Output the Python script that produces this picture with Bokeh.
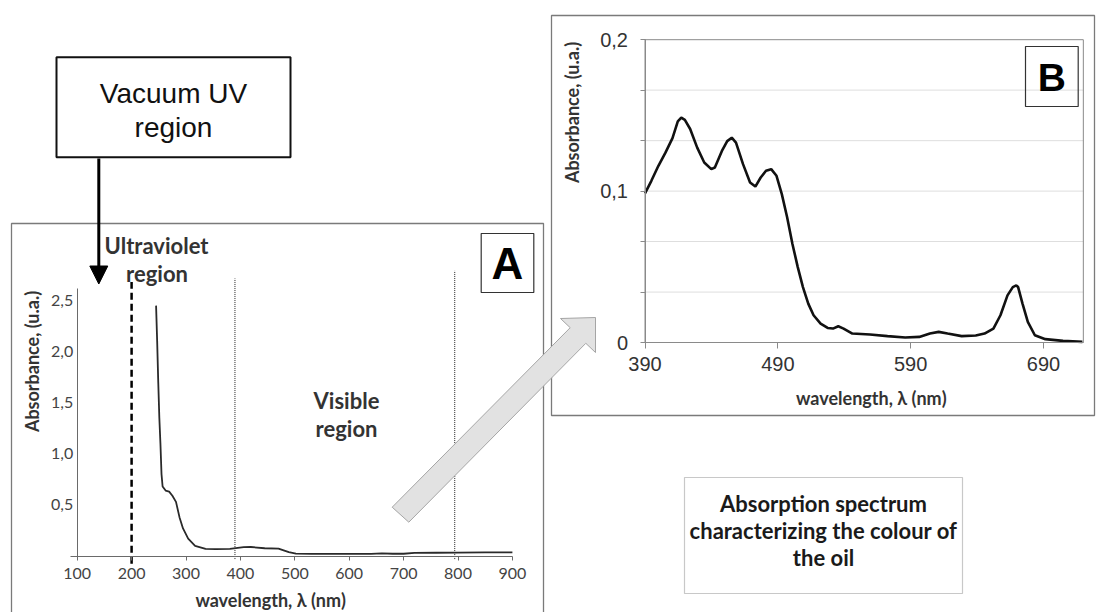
from math import pi
from bokeh.plotting import figure
from bokeh.models import (Range1d, LinearAxis, FixedTicker, CustomJSTickFormatter,
                          BoxAnnotation, Label, Arrow, NormalHead, PolyAnnotation)
from bokeh.embed import file_html
from bokeh.resources import INLINE

# ---------------- data ----------------
# Panel A: full UV-Vis spectrum
wl_a = [245, 247, 249, 251, 253, 255, 257, 262.5, 269, 275, 281.6, 288, 294.5, 304, 316.7,
        336, 355, 380.7, 406, 419, 444.7, 470, 489, 502, 530, 560, 600, 640, 660, 680,
        700, 720, 760, 800, 850, 900]
abs_a = [2.45, 2.1, 1.7, 1.35, 1.1, 0.8, 0.68, 0.64, 0.63, 0.59, 0.53, 0.38, 0.27, 0.17, 0.10,
         0.07, 0.068, 0.07, 0.086, 0.088, 0.076, 0.073, 0.037, 0.024, 0.02, 0.02, 0.02, 0.021,
         0.025, 0.022, 0.022, 0.03, 0.032, 0.033, 0.035, 0.035]

# Panel B: visible-range zoom
wl_b = [390, 394.8, 400.1, 405.4, 410.7, 414.7, 417.3, 420, 424, 429.3, 434.6, 439.9, 442.6,
        447.9, 451.9, 455.3, 458.5, 463.8, 469.1, 473.1, 477.1, 481.1, 485, 489, 493, 497,
        501, 505, 508.9, 512.9, 516.9, 522.2, 527.5, 531.5, 535.5, 539.5, 546.1, 559.4,
        572.6, 585.9, 596.5, 604.5, 611.1, 617.8, 628.4, 639, 645.6, 652.3, 657.6, 662.9,
        666.9, 669.5, 670.9, 674.2, 678.2, 683.5, 691.4, 704.7, 719.3]
abs_b = [0.0985, 0.1068, 0.1167, 0.1254, 0.135, 0.146, 0.1485, 0.147, 0.141, 0.1287, 0.1189,
         0.1145, 0.1156, 0.1265, 0.133, 0.1353, 0.132, 0.1178, 0.1057, 0.103, 0.109, 0.1134,
         0.1145, 0.1101, 0.098, 0.0827, 0.0651, 0.0498, 0.0366, 0.0257, 0.018, 0.0125,
         0.0096, 0.0092, 0.0107, 0.0092, 0.0059, 0.0053, 0.0042, 0.0033, 0.0037, 0.0059,
         0.007, 0.0059, 0.0042, 0.0046, 0.0059, 0.0092, 0.018, 0.0311, 0.0366, 0.0377,
         0.0366, 0.0257, 0.0136, 0.0048, 0.0022, 0.0011, 0.0004]

ticks_a_x = [100, 200, 300, 400, 500, 600, 700, 800, 900]
ticks_a_y = [0.5, 1.0, 1.5, 2.0, 2.5]
ticks_b_x = [390, 490, 590, 690]
ticks_b_y = [0, 0.1, 0.2]
minor_b_y = [0.0333, 0.0667, 0.1333, 0.1667]
grid_b_y = [0.0333, 0.0667, 0.1, 0.1333, 0.1667]

uv_limit = [200]
vis_limits = [390, 794]

# ---------------- canvas ----------------
W, H = 1096, 612
p = figure(width=W, height=H, x_range=Range1d(0, W), y_range=Range1d(H, 0),
           x_axis_location=None, y_axis_location=None, toolbar_location=None,
           output_backend="svg", min_border=0, outline_line_color=None,
           background_fill_color="white", border_fill_color="white")
p.xgrid.visible = False
p.ygrid.visible = False


def xr(v0, px0, scale):
    start = v0 - px0 / scale
    return Range1d(start, start + W / scale)


def yr(v0, py0, scale):
    top = v0 + py0 / scale
    return Range1d(top - H / scale, top)


p.extra_x_ranges = {"A": xr(100, 76.7, 0.544), "B": xr(390, 644.5, 1.3283)}
p.extra_y_ranges = {"A": yr(0, 555.5, 102.2), "B": yr(0, 342, 1514)}

comma_fmt = CustomJSTickFormatter(code="return tick == 0 ? '0' : tick.toFixed(1).replace('.', ',');")


def box(left, right, top, bottom, color, width=1.0, fill=None, **kw):
    p.add_layout(BoxAnnotation(left=left, right=right, top=top, bottom=bottom,
                               fill_color=fill or "white", fill_alpha=1 if fill else 0,
                               line_color=color, line_alpha=1, line_width=width, **kw))


# ---------------- panel borders ----------------
box(11, 543, 223, 640, "#7a7a7a", 1.3)
box(551, 1094, 15, 415, "#7a7a7a", 1.3)

# ---------------- panel B ----------------
p.segment(x0=[390] * len(grid_b_y), y0=grid_b_y, x1=[720] * len(grid_b_y), y1=grid_b_y,
          x_range_name="B", y_range_name="B", line_color="#dedede", line_width=1)
box(390, 720, 0.2, 0, "#8a8a8a", 1, x_range_name="B", y_range_name="B")

xb = LinearAxis(x_range_name="B", y_range_name="B", fixed_location=0, bounds=(390, 720),
                ticker=FixedTicker(ticks=ticks_b_x), axis_line_color="#8a8a8a",
                major_tick_line_color="#8a8a8a", major_tick_in=0, major_tick_out=6,
                minor_tick_line_color=None, major_label_standoff=8,
                major_label_text_font="Liberation Sans", major_label_text_font_size="20px",
                major_label_text_color="#333333")
p.add_layout(xb, "below")
yb = LinearAxis(x_range_name="B", y_range_name="B", fixed_location=390, bounds=(0, 0.2),
                ticker=FixedTicker(ticks=ticks_b_y, minor_ticks=minor_b_y),
                formatter=comma_fmt, axis_line_color="#8a8a8a",
                major_tick_line_color="#8a8a8a", major_tick_in=0, major_tick_out=5,
                minor_tick_line_color="#8a8a8a", minor_tick_in=0, minor_tick_out=5,
                major_label_standoff=12, major_label_text_font="Liberation Sans",
                major_label_text_font_size="20px", major_label_text_color="#333333")
p.add_layout(yb, "left")

p.line(wl_b, abs_b, x_range_name="B", y_range_name="B", line_color="#111111", line_width=2.6)

# ---------------- panel A ----------------
xa = LinearAxis(x_range_name="A", y_range_name="A", fixed_location=0, bounds=(88, 900),
                ticker=FixedTicker(ticks=ticks_a_x), axis_line_color="#6a6a6a",
                major_tick_line_color="#6a6a6a", major_tick_in=0, major_tick_out=4,
                minor_tick_line_color=None, major_label_standoff=8,
                major_label_text_font="Lato", major_label_text_font_size="16px",
                major_label_text_color="#444444")
p.add_layout(xa, "below")
ya = LinearAxis(x_range_name="A", y_range_name="A", fixed_location=100, bounds=(0, 2.62),
                ticker=FixedTicker(ticks=ticks_a_y), formatter=comma_fmt,
                axis_line_color="#6a6a6a", major_tick_line_color=None, major_tick_out=0,
                major_tick_in=0, minor_tick_line_color=None, major_label_standoff=4,
                major_label_text_font="Lato", major_label_text_font_size="16px",
                major_label_text_color="#444444")
p.add_layout(ya, "left")

p.segment(x0=uv_limit, y0=[-0.076], x1=uv_limit, y1=[2.68], x_range_name="A",
          y_range_name="A", line_color="black", line_width=2.5, line_dash="7 4")
p.segment(x0=vis_limits, y0=[-0.03, -0.03], x1=vis_limits, y1=[2.715, 2.79],
          x_range_name="A", y_range_name="A", line_color="#222222", line_width=1,
          line_dash="1 1")
p.line(wl_a, abs_a, x_range_name="A", y_range_name="A", line_color="#2a2a2a", line_width=1.8)


# ---------------- text & boxes ----------------
def lab(x, y, text, size, font="Lato", style="bold", color="#333333", angle=0):
    p.add_layout(Label(x=x, y=y, text=text, text_align="center", text_baseline="middle",
                       text_font=font, text_font_size=f"{size}px", text_font_style=style,
                       text_color=color, angle=angle))


lab(31, 361, "Absorbance, (u.a.)", 18, angle=pi / 2)
lab(270, 599, "wavelength, \u03bb (nm)", 18)
lab(571.5, 112, "Absorbance, (u.a.)", 18, angle=pi / 2)
lab(870.6, 397, "wavelength, \u03bb (nm)", 18)

lab(156, 245, "Ultraviolet", 22)
lab(156.5, 273, "region", 22)
lab(346, 400, "Visible", 22)
lab(346, 428, "region", 22)

# panel letters
box(480.7, 533.3, 233, 292, "#333333", 1.2)
lab(507, 263, "A", 44, font="Liberation Sans", color="#000000")
box(1025, 1077.7, 46, 106, "#333333", 1.2)
lab(1051.3, 77, "B", 39, font="Liberation Sans", color="#000000")

# Vacuum UV callout
box(56, 290, 56.7, 156.7, "#111111", 2, fill="white")
lab(173, 93, "Vacuum UV", 28, font="Liberation Sans", style="normal", color="#111111")
lab(173, 127, "region", 28, font="Liberation Sans", style="normal", color="#111111")
p.add_layout(Arrow(end=NormalHead(size=18, fill_color="black", line_color="black"),
                   x_start=98.3, y_start=158, x_end=98.3, y_end=283.5,
                   line_color="black", line_width=3))

# caption box
box(684, 962, 477, 593, "#c8c8c8", 1.2)
lab(823, 503, "Absorption spectrum", 22, color="#1a1a1a")
lab(823, 530, "characterizing the colour of", 22, color="#1a1a1a")
lab(823, 557, "the oil", 22, color="#1a1a1a")

# big grey arrow from panel A to panel B
p.add_layout(PolyAnnotation(
    xs=[391.7, 569.7, 560, 595, 595, 585.3, 408.3],
    ys=[506.7, 327.2, 318, 317, 352, 342.8, 521.7],
    fill_color="#e2e2e2", fill_alpha=1, line_color="#a5a5a5", line_alpha=1, line_width=1))

open("out.html", "w").write(file_html(p, INLINE))
